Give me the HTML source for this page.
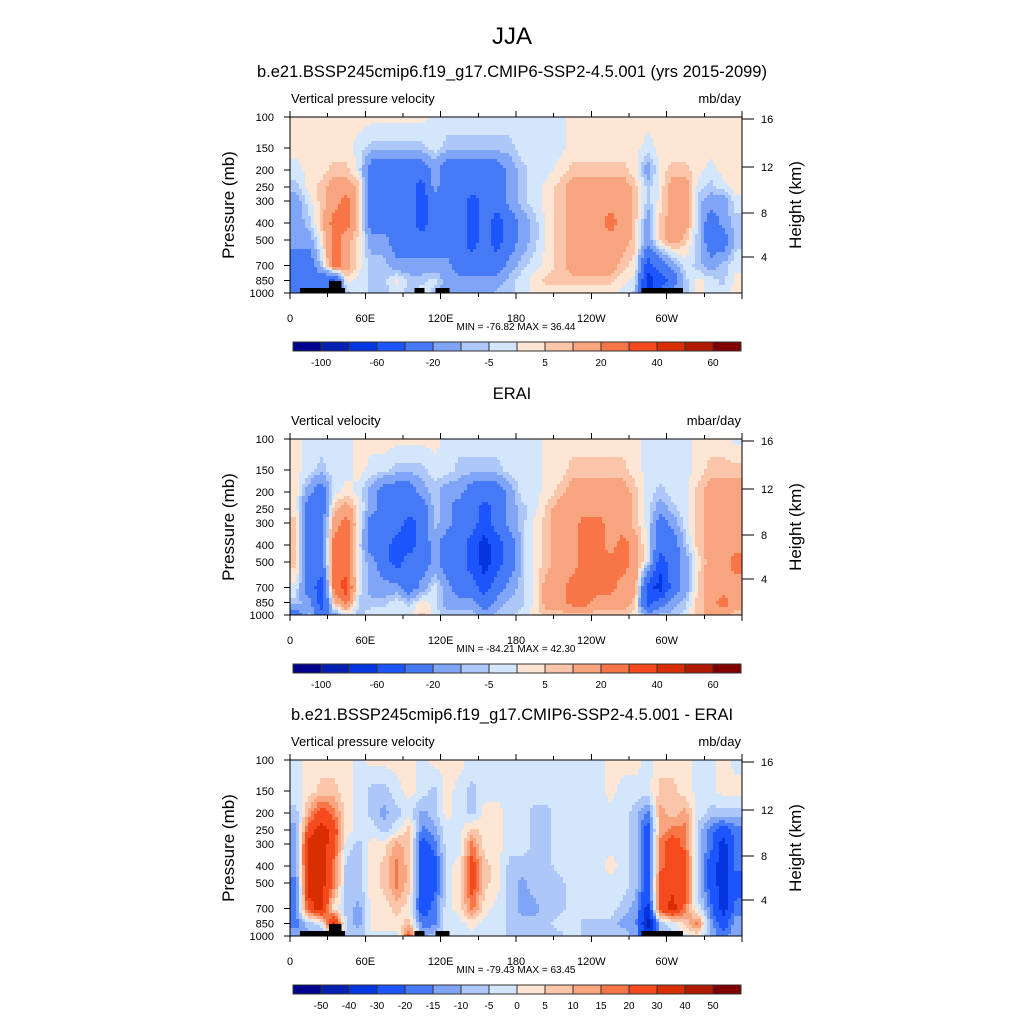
<!DOCTYPE html>
<html><head><meta charset="utf-8">
<style>
html,body{margin:0;padding:0;background:#fff;}
svg{display:block;font-family:"Liberation Sans",Arial,sans-serif;}
</style></head>
<body>
<svg id="chart" width="1024" height="1024" viewBox="0 0 1024 1024" xmlns="http://www.w3.org/2000/svg" shape-rendering="crispEdges">
<text x="512" y="44" text-anchor="middle" font-size="24">JJA</text>
<g id="root"></g>
</svg>
<script>
const lons=[5,15,25,35,45,55,65,75,85,95,105,115,125,135,145,155,165,175,185,195,205,215,225,235,245,255,265,275,285,295,305,315,325,335,345,355];
const plevs=[100,150,200,250,300,400,500,700,850,1000];
const pressureTicks=[100,150,200,250,300,400,500,700,850,1000];
const heightTicks=[16,12,8,4];
const lonTicks=[0,60,120,180,240,300];
const lonTickLabels=["0","60E","120E","180","120W","60W"];
const levels12=[-100,-80,-60,-40,-20,-10,-5,0,5,10,20,30,40,50,60];
const levelLabels12=["-100","","-60","","-20","","-5","","5","","20","","40","","60"];
const levels3=[-50,-40,-30,-20,-15,-10,-5,0,5,10,15,20,30,40,50];
const levelLabels3=["-50","-40","-30","-20","-15","-10","-5","0","5","10","15","20","30","40","50"];
const palette=['#00008f','#0420b0','#0535df','#1c55fb','#4579f5','#80a5f6','#adc8f8','#d4e6fb','#fde6d4','#fac5a8','#f8a47e','#f77546','#f44a1e','#d92e02','#b01b00','#800000'];
const topo=[[8,44,5],[31,41,12],[99,107,5],[116,127,5],[280,313,5]];

const model=[
[2,2,2,2,2,2,2,2,2,2,2,-2,-2,-2,-2,-2,-2,-2,-2,-2,-2,-2,2,2,2,2,2,2,2,2,2,2,2,2,2,2],
[2,2,2,2,2,-2,-7,-7,-7,-7,-7,-2,-7,-7,-7,-7,-7,-7,-2,-2,-2,-2,2,2,2,2,2,2,-2,2,2,2,2,2,2,2],
[-2,2,2,7,7,-2,-30,-30,-30,-30,-30,-15,-30,-30,-30,-30,-30,-15,-7,-2,-2,2,7,7,7,7,7,2,-15,2,7,7,2,-2,2,2],
[-7,2,7,15,15,7,-30,-30,-30,-30,-50,-15,-30,-30,-30,-30,-30,-15,-7,-2,2,7,15,15,15,15,15,7,-7,2,15,15,-2,-7,-2,2],
[-15,-2,7,15,25,7,-30,-30,-30,-30,-50,-30,-30,-30,-50,-30,-30,-15,-7,-2,2,7,15,15,15,15,15,7,-7,2,15,15,-7,-15,-15,-2],
[-15,-7,7,25,25,7,-30,-30,-30,-30,-50,-30,-30,-30,-50,-30,-50,-30,-15,-7,2,7,15,15,15,25,15,7,-15,7,15,15,-7,-30,-15,-7],
[-15,-15,2,25,15,2,-15,-15,-30,-30,-30,-30,-30,-30,-50,-30,-50,-30,-15,-7,2,7,15,15,15,15,15,7,-15,7,15,7,-7,-30,-30,-7],
[-30,-30,-7,25,15,2,-7,-7,-15,-15,-15,-15,-15,-30,-30,-30,-30,-15,-7,-2,2,7,15,15,15,15,7,2,-50,-30,-15,-2,-7,-15,-7,-2],
[-30,-30,-30,-50,2,-2,-7,-7,2,-7,-7,-2,-15,-15,-15,-15,-15,-7,-2,2,7,7,7,7,7,7,2,-2,-70,-50,-30,-7,2,-2,-7,2],
[-30,-30,-30,-50,-7,-2,-7,-7,-2,-7,-2,-7,-15,-15,-15,-15,-7,-7,-2,2,2,2,2,2,2,2,-2,-7,-70,-30,-15,-7,2,-2,-2,2]];
const erai=[
[2,-2,-2,-2,-2,2,2,2,2,2,2,2,-2,-2,-2,-2,-2,-2,-2,-2,2,2,2,2,2,2,2,2,-2,-2,-2,-2,2,2,2,-2],
[2,-2,-7,-2,-2,2,-2,-2,-7,-7,-7,-2,-2,-7,-7,-7,-7,-2,-2,-2,2,2,7,7,7,7,7,2,-2,-2,-2,-2,2,7,7,7],
[2,-15,-30,-2,2,-2,-15,-30,-30,-30,-15,-7,-15,-15,-30,-30,-30,-15,-2,-2,2,7,15,15,15,15,15,7,-2,-7,-2,-2,7,15,15,15],
[2,-30,-30,7,15,2,-15,-30,-30,-30,-30,-7,-15,-30,-30,-50,-30,-15,-7,-2,7,15,15,15,15,15,15,7,-2,-15,-7,-2,7,15,15,15],
[7,-30,-30,15,25,2,-30,-30,-30,-50,-30,-7,-15,-30,-30,-50,-30,-15,-7,2,7,15,15,25,25,15,15,7,-2,-30,-15,-2,7,15,15,15],
[7,-30,-30,25,25,-2,-30,-30,-50,-50,-30,-15,-30,-30,-50,-70,-50,-30,-7,2,7,15,15,25,25,15,25,15,-2,-30,-30,-7,7,15,15,15],
[7,-30,-30,25,25,-2,-15,-30,-50,-30,-30,-15,-30,-30,-50,-70,-50,-30,-7,2,7,15,15,25,25,25,25,15,-2,-50,-30,-15,2,15,15,25],
[-2,-30,-50,25,35,-2,-15,-15,-15,-30,-15,-2,-15,-30,-30,-50,-30,-15,-7,2,15,15,25,25,25,25,15,15,-50,-70,-30,-15,7,15,15,15],
[-7,-15,-50,7,25,-7,-7,-7,-2,-7,2,-2,-15,-15,-15,-30,-15,-7,-7,2,15,15,25,25,15,15,15,7,-50,-30,-15,-7,7,15,25,15],
[-30,-7,-30,-15,-2,-7,-2,-2,-2,-2,7,-2,-7,-7,-7,-15,-7,-7,-2,2,7,7,7,7,7,7,7,2,-15,-7,-7,-2,7,15,15,7]];
const diff=[
[-2,2,2,2,2,-2,2,2,2,2,-2,2,2,2,-2,-2,-2,-2,-2,-2,-2,-2,-2,-2,-2,2,2,2,-2,2,2,2,-2,-2,2,-2],
[-2,2,7,7,2,-2,-7,-7,-2,2,-2,-7,2,-2,-7,-2,-2,-2,-2,-2,-2,-2,-2,-2,-2,2,-2,-2,-2,7,7,2,-2,-2,2,2],
[-7,12,25,17,2,-2,-7,-12,-7,-2,-12,-7,2,-2,-7,2,2,-2,-2,-7,-7,-2,-2,-2,-2,-2,-2,-7,-17,12,7,12,-2,-7,-7,-7],
[-12,25,35,25,2,-2,-2,-7,-2,7,-17,-12,-2,-2,7,2,2,-2,-2,-7,-7,-2,-2,-2,-2,-2,-2,-7,-25,12,17,17,-7,-17,-25,-17],
[-12,35,35,25,-2,-7,2,2,12,7,-25,-17,-2,-2,17,2,2,-2,-2,-7,-7,-2,-2,-2,-2,-2,-2,-7,-25,17,25,17,-7,-17,-35,-17],
[-12,35,35,17,-7,-7,2,7,17,7,-25,-25,-2,2,25,7,2,-7,-7,-7,-7,-2,-2,-2,-2,2,-2,-7,-25,17,25,25,-7,-25,-35,-17],
[-17,35,35,17,-7,-7,2,7,17,7,-25,-25,-2,2,25,7,2,-7,-12,-7,-7,-7,-2,-2,-2,-2,-2,-7,-25,25,25,25,-7,-25,-35,-25],
[-17,25,35,2,-7,-12,2,2,7,2,-25,-17,-2,2,17,2,-2,-7,-12,-12,-7,-7,-2,-2,-2,-2,-7,-12,-35,25,35,17,-2,-17,-35,-17],
[-17,-7,-2,35,-7,-12,2,2,2,7,-17,-17,-2,-2,2,-2,-2,-7,-7,-7,-7,-2,-2,-7,-7,-7,-12,-12,-45,-7,-2,7,17,-12,-25,-12],
[-12,-12,-12,2,-7,-7,-2,-2,-2,25,-12,-7,-2,-2,-2,-2,-2,-7,-7,-7,-7,-7,-2,-7,-7,-7,-7,-12,-35,-12,-7,-2,2,-12,-17,-12]];

const NS='http://www.w3.org/2000/svg';
const root=document.getElementById('root');
const X0=290,X1=742,PH=176,STEP=3;
function xs(lon){return X0+(lon/360)*(X1-X0);}
function mk(tag,attrs,parent){const e=document.createElementNS(NS,tag);for(const k in attrs)e.setAttribute(k,attrs[k]);(parent||root).appendChild(e);return e;}
function txt(s,attrs,parent){const e=mk('text',attrs,parent);e.textContent=s;return e;}
function colorFor(v,levels){let k=0;while(k<levels.length&&v>=levels[k])k++;return palette[k];}
function frac(arr,v){
  if(v<=arr[0])return 0; if(v>=arr[arr.length-1])return arr.length-1;
  let i=0;while(arr[i+1]<v)i++;return i+(v-arr[i])/(arr[i+1]-arr[i]);
}
const logp=plevs.map(p=>Math.log10(p));
function sample(data,lon,p){
  const fi=frac(logp,Math.log10(p)),fj=frac(lons,lon);
  const i0=Math.floor(fi),j0=Math.floor(fj),i1=Math.min(i0+1,plevs.length-1),j1=Math.min(j0+1,lons.length-1);
  const a=fi-i0,b=fj-j0;
  return (1-a)*((1-b)*data[i0][j0]+b*data[i0][j1])+a*((1-b)*data[i1][j0]+b*data[i1][j1]);
}

const panels=[
 {top:117,data:model,levels:levels12,labels:levelLabels12,title:"b.e21.BSSP245cmip6.f19_g17.CMIP6-SSP2-4.5.001 (yrs 2015-2099)",left:"Vertical pressure velocity",right:"mb/day",mm:"MIN = -76.82  MAX =  36.44",topo:true},
 {top:439,data:erai,levels:levels12,labels:levelLabels12,title:"ERAI",left:"Vertical velocity",right:"mbar/day",mm:"MIN = -84.21  MAX =  42.30",topo:false},
 {top:760,data:diff,levels:levels3,labels:levelLabels3,title:"b.e21.BSSP245cmip6.f19_g17.CMIP6-SSP2-4.5.001 - ERAI",left:"Vertical pressure velocity",right:"mb/day",mm:"MIN = -79.43  MAX =  63.45",topo:true}
];

panels.forEach((P,pi)=>{
  const T=P.top,B=T+PH;
  const ys=p=>T+PH*Math.log10(p/100);
  const g=mk('g',{});
  
  
  const t=txt(P.title,{x:512,y:T-40,'text-anchor':'middle','font-size':16.5},g);
  
  
  const l=txt(P.left,{x:291,y:T-14,'font-size':13},g);
  
  
  const r=txt(P.right,{x:741,y:T-14,'font-size':13,'text-anchor':'end'},g);
  
  
  const field=mk('g',{},g);
  
  
  for(let y=T;y<B;y+=STEP){
    const h=Math.min(STEP,B-y);
    const p=100*Math.pow(10,(y+h/2-T)/PH);
    let runStart=X0,runColor=null;
    for(let x=X0;x<X1;x+=STEP){
      const w=Math.min(STEP,X1-x);
      const lon=(x+w/2-X0)/(X1-X0)*360;
      const col=colorFor(sample(P.data,lon,p),P.levels);
      if(col!==runColor){
        if(runColor!==null){
          const c=mk('rect',{x:runStart,y:y,width:x-runStart,height:h,fill:runColor},field);
          
          
        }
        runStart=x;runColor=col;
      }
    }
    const c=mk('rect',{x:runStart,y:y,width:X1-runStart,height:h,fill:runColor},field);
    
    
  }
  if(P.topo){topo.forEach(tp=>{
    const b=mk('rect',{x:xs(tp[0]),y:B-tp[2],width:xs(tp[1])-xs(tp[0]),height:tp[2],fill:'#000'},g);
    
    
  });}
  const fr=mk('rect',{x:X0,y:T,width:X1-X0,height:PH,fill:'none',stroke:'#000','stroke-width':1.2},g);
  
  
  for(let lon=0;lon<=360;lon+=30){
    const x=xs(lon),len=(lon%60===0)?6:4;
    mk('line',{x1:x,x2:x,y1:B,y2:B+len,stroke:'#000'},g);
    mk('line',{x1:x,x2:x,y1:T,y2:T-len,stroke:'#000'},g);
  }
  lonTicks.forEach((lon,k)=>{
    const a=txt(lonTickLabels[k],{x:xs(lon),y:B+29,'text-anchor':'middle','font-size':11},g);
    
    
  });
  pressureTicks.forEach(p=>{
    const y=ys(p);
    mk('line',{x1:X0-6,x2:X0,y1:y,y2:y,stroke:'#000'},g);
    const a=txt(String(p),{x:274,y:y+4,'text-anchor':'end','font-size':11},g);
    
    
  });
  const hy=[T+2,T+50,T+96,T+140];
  heightTicks.forEach((h,k)=>{
    mk('line',{x1:X1,x2:X1+12,y1:hy[k],y2:hy[k],stroke:'#000'},g);
    const a=txt(String(h),{x:761,y:hy[k]+4,'font-size':11},g);
    
    
  });
  const ya=txt('Pressure (mb)',{x:0,y:0,'font-size':17,'text-anchor':'middle',transform:'translate(234,'+(T+88)+') rotate(-90)'},g);
  
  
  const yb2=txt('Height (km)',{x:0,y:0,'font-size':17,'text-anchor':'middle',transform:'translate(801,'+(T+88)+') rotate(-90)'},g);
  
  
  const mm=txt(P.mm,{x:516,y:B+37,'text-anchor':'middle','font-size':10},g);
  
  
  const cy=B+49,cw=(741-293)/16;
  const cb=mk('g',{},g);
  
  
  palette.forEach((c,k)=>{
    const s=mk('rect',{x:293+k*cw,y:cy,width:cw,height:9,fill:c,stroke:'#333','stroke-width':0.6},cb);
    
    
  });
  P.levels.forEach((lv,k)=>{
    if(!P.labels[k])return;
    const a=txt(P.labels[k],{x:293+(k+1)*cw,y:cy+24,'text-anchor':'middle','font-size':10},cb);
    
    
  });
});
</script>
</body></html>
